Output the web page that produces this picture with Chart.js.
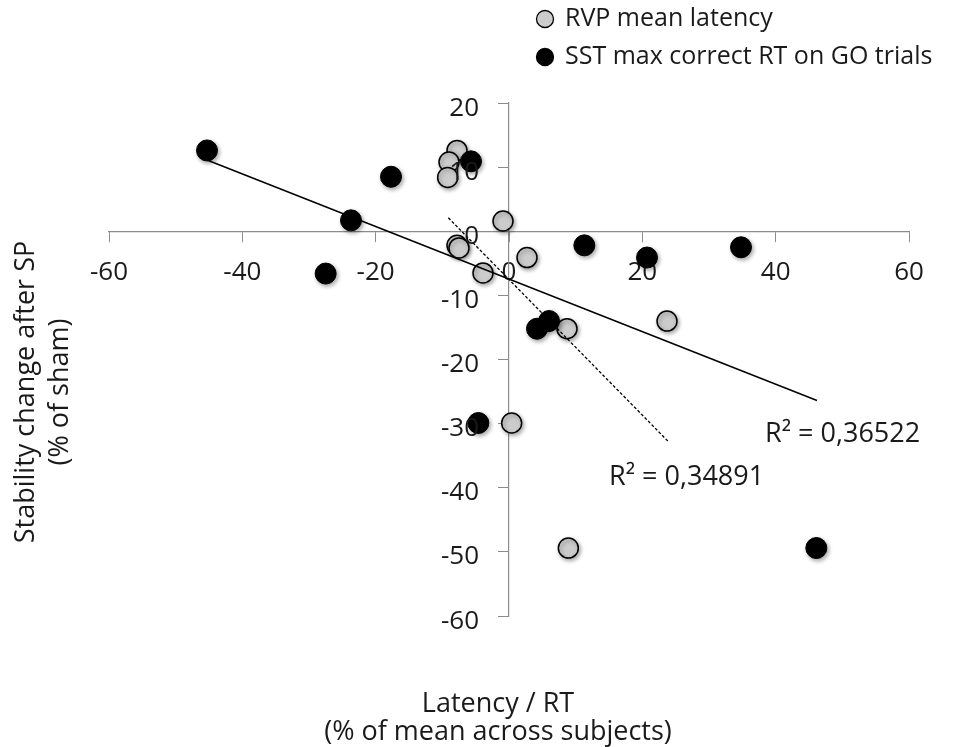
<!DOCTYPE html>
<html>
<head>
<meta charset="utf-8">
<title>Stability change vs latency</title>
<script src="https://cdn.jsdelivr.net/npm/chart.js@4.4.1/dist/chart.umd.min.js"></script>
<style>
    html, body { margin: 0; padding: 0; background: #ffffff; }
    #wrap { width: 964px; height: 747px; }
</style>
</head>
<body>
<div id="wrap"><canvas id="scatterChart" width="964" height="747"></canvas></div>
<script>
// RVP mean latency (grey dots)
const rvpX = [-7.8, -9.0, -9.2, -0.9, -7.8, -7.5, 2.7, -3.9, 8.7, 23.7, 0.4, 8.9];
const rvpY = [12.6, 10.8, 8.4, 1.6, -2.2, -2.6, -4.1, -6.5, -15.2, -14.0, -29.9, -49.4];

// SST max correct RT on GO trials (black dots)
const sstX = [-45.3, -23.7, -17.7, -27.5, -5.7, 11.3, 20.7, 34.8, 4.2, 6.0, -4.6, 46.1];
const sstY = [12.6, 1.7, 8.5, -6.6, 10.9, -2.2, -4.1, -2.5, -15.2, -14.0, -29.9, -49.4];

// linear trendline end points
const sstTrendX = [-45.3, 46.2];
const sstTrendY = [11.1, -26.4];
const rvpTrendX = [-9.1, 23.9];
const rvpTrendY = [2.1, -32.8];

const seriesNames = ['RVP mean latency', 'SST max correct RT on GO trials'];
const r2Labels = ['R\u00B2 = 0,34891', 'R\u00B2 = 0,36522'];
const xTitle = ['Latency / RT', '(% of mean across subjects)'];
const yTitle = ['Stability change after SP', '(% of sham)'];

const FONT = '"Open Sans", sans-serif';
const TEXT = '#1a1a1a';
const GREY = '#cccccc';
const AXIS = '#8c8c8c';

function toPoints(xs, ys) {
    return xs.map((x, i) => ({ x: x, y: ys[i] }));
}

// soft drop shadow under the dots, like the spreadsheet export
const dotShadow = {
    id: 'dotShadow',
    beforeDatasetDraw(chart, args) {
        if (chart.data.datasets[args.index].type === 'line') return;
        const ctx = chart.ctx;
        ctx.save();
        ctx.shadowColor = 'rgba(0, 0, 0, 0.35)';
        ctx.shadowBlur = 4;
        ctx.shadowOffsetX = 1.5;
        ctx.shadowOffsetY = 2;
    },
    afterDatasetDraw(chart, args) {
        if (chart.data.datasets[args.index].type === 'line') return;
        chart.ctx.restore();
    }
};

// y tick labels sit left of the crossing axis; they go over the dots
const yTickLabels = {
    id: 'yTickLabels',
    afterDatasetsDraw(chart) {
        const ctx = chart.ctx;
        const ys = chart.scales.y;
        const axisX = chart.scales.x.getPixelForValue(0);
        ctx.save();
        ctx.font = '26px ' + FONT;
        ctx.fillStyle = TEXT;
        ctx.textAlign = 'right';
        ctx.textBaseline = 'alphabetic';
        ys.ticks.forEach(t => {
            ctx.fillText(String(t.value), axisX - 30, ys.getPixelForValue(t.value) + 12.5);
        });
        ctx.restore();
    }
};

// legend, axis titles and R² labels
const extras = {
    id: 'extras',
    afterDraw(chart) {
        const ctx = chart.ctx;
        ctx.save();
        ctx.fillStyle = TEXT;

        // legend
        ctx.font = '25px ' + FONT;
        ctx.textBaseline = 'middle';
        const legendRows = [19, 57];
        const legendFill = [GREY, '#000000'];
        legendRows.forEach((y, i) => {
            ctx.beginPath();
            ctx.arc(545, y, 8.5, 0, Math.PI * 2);
            ctx.fillStyle = legendFill[i];
            ctx.fill();
            ctx.lineWidth = 1.3;
            ctx.strokeStyle = '#000000';
            ctx.stroke();
            ctx.fillStyle = TEXT;
            ctx.textAlign = 'left';
            ctx.fillText(seriesNames[i], 565, y);
        });

        // R² labels
        ctx.font = '27px ' + FONT;
        ctx.textBaseline = 'alphabetic';
        ctx.textAlign = 'left';
        ctx.fillText(r2Labels[0], 609, 485);
        ctx.fillText(r2Labels[1], 765, 442);

        // x axis title
        ctx.textAlign = 'center';
        ctx.fillText(xTitle[0], 498, 712);
        ctx.fillText(xTitle[1], 498, 740);

        // y axis title
        ctx.translate(0, 392);
        ctx.rotate(-Math.PI / 2);
        ctx.fillText(yTitle[0], 0, 34);
        ctx.fillText(yTitle[1], 0, 68);
        ctx.restore();
    }
};

new Chart(document.getElementById('scatterChart'), {
    type: 'scatter',
    data: {
        datasets: [
            {
                label: seriesNames[0],
                data: toPoints(rvpX, rvpY),
                backgroundColor: GREY,
                borderColor: '#000000',
                borderWidth: 1.5,
                pointRadius: 10,
                order: 3
            },
            {
                label: seriesNames[1],
                data: toPoints(sstX, sstY),
                backgroundColor: '#000000',
                borderColor: '#000000',
                borderWidth: 1,
                pointRadius: 10.5,
                order: 2
            },
            {
                type: 'line',
                label: 'SST trend',
                data: toPoints(sstTrendX, sstTrendY),
                borderColor: '#000000',
                borderWidth: 1.5,
                pointRadius: 0,
                fill: false,
                order: 1
            },
            {
                type: 'line',
                label: 'RVP trend',
                data: toPoints(rvpTrendX, rvpTrendY),
                borderColor: '#000000',
                borderWidth: 1.3,
                borderDash: [3, 2],
                pointRadius: 0,
                fill: false,
                order: 0
            }
        ]
    },
    options: {
        responsive: false,
        animation: false,
        devicePixelRatio: 1,
        layout: {
            padding: { left: 109, right: 55, top: 103, bottom: 131 }
        },
        plugins: {
            legend: { display: false },
            tooltip: { enabled: false }
        },
        scales: {
            x: {
                type: 'linear',
                min: -60,
                max: 60,
                position: { y: 0 },
                afterFit: scale => { scale.height = 0; },
                ticks: {
                    stepSize: 20,
                    padding: 16,
                    color: TEXT,
                    font: { family: FONT, size: 26 }
                },
                grid: { drawOnChartArea: false, tickLength: 10, color: AXIS },
                border: { color: AXIS, width: 1.2 }
            },
            y: {
                type: 'linear',
                min: -60,
                max: 20,
                position: { x: 0 },
                afterFit: scale => { scale.width = 0; },
                ticks: { stepSize: 10, display: false },
                grid: { drawOnChartArea: false, tickLength: 10, color: AXIS },
                border: { color: AXIS, width: 1.2 }
            }
        }
    },
    plugins: [dotShadow, yTickLabels, extras]
});
</script>
</body>
</html>
